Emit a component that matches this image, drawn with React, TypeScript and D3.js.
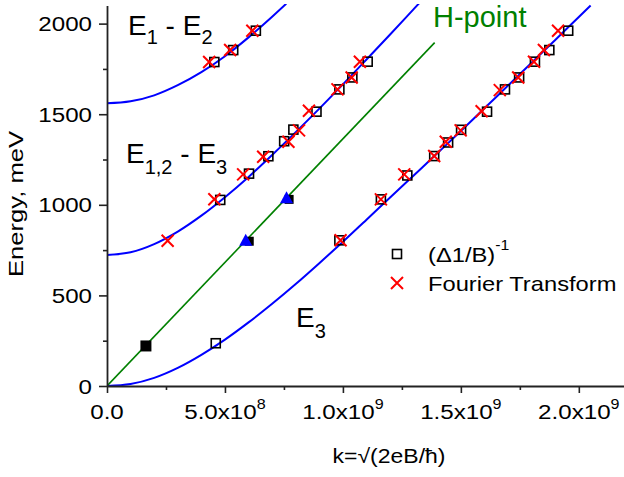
import React, { useEffect, useRef } from "react";
import * as d3 from "d3";

// k in m^-1, energy in meV
const xMajor = [0, 5e8, 1e9, 1.5e9, 2e9];
const xMinor = [2.5e8, 7.5e8, 1.25e9, 1.75e9];
const xTickText = ["0.0", "5.0x10", "1.0x10", "1.5x10", "2.0x10"];
const xTickExp = ["", "8", "9", "9", "9"];
const yMajor = [0, 500, 1000, 1500, 2000];
const yMinor = [250, 750, 1250, 1750];

// fitted curves
const fitK12 = [0, 1e8, 2e8, 3e8, 4e8, 5e8, 6e8, 7e8, 7.6e8];
const fitE12 = [1560, 1571, 1604, 1660, 1732, 1820, 1924, 2038, 2110];
const fitK123 = [0, 1e8, 2e8, 3e8, 4e8, 5e8, 6e8, 7e8, 8e8, 9e8, 10e8, 11e8, 12e8, 13e8, 13.3e8];
const fitE123 = [723, 738, 783, 852, 940, 1042, 1154, 1275, 1401, 1531, 1665, 1802, 1940, 2080, 2122];
const fitK3 = [0, 1e8, 2e8, 3e8, 4e8, 5e8, 6e8, 7e8, 8e8, 9e8, 10e8, 11e8, 12e8, 13e8, 14e8, 15e8, 16e8, 17e8, 18e8, 19e8, 20e8, 20.5e8];
const fitE3 = [0, 11, 45, 100, 172, 256, 351, 454, 563, 678, 796, 918, 1040, 1162, 1284, 1407, 1533, 1658, 1784, 1910, 2037, 2100];
const hLineK = [0, 13.89e8];
const hLineE = [0, 1895];

// (Δ1/B)^-1 points
const sqK = [4.55e8, 5.35e8, 6.31e8,
  4.8e8, 6.02e8, 6.84e8, 7.51e8, 7.9e8, 8.88e8, 9.85e8, 10.4e8, 11.05e8,
  4.61e8, 9.85e8, 11.61e8, 12.73e8, 13.87e8, 14.46e8, 15.01e8, 16.11e8, 16.87e8, 17.47e8, 18.14e8, 18.75e8, 19.55e8];
const sqE = [1788, 1854, 1961,
  1027, 1172, 1268, 1351, 1415, 1514, 1637, 1703, 1790,
  236, 804, 1030, 1162, 1269, 1344, 1414, 1514, 1637, 1703, 1790, 1854, 1961];

// Fourier transform points
const ftK = [4.33e8, 5.22e8, 6.16e8,
  2.57e8, 4.55e8, 5.77e8, 6.62e8, 7.69e8, 8.14e8, 8.56e8, 9.77e8, 10.37e8, 10.72e8,
  9.9e8, 11.61e8, 12.6e8, 13.87e8, 14.36e8, 14.99e8, 15.88e8, 16.65e8, 17.43e8, 18.1e8, 18.52e8, 19.12e8];
const ftE = [1788, 1854, 1961,
  802, 1031, 1168, 1265, 1348, 1411, 1519, 1637, 1703, 1790,
  804, 1030, 1168, 1269, 1348, 1411, 1516, 1633, 1703, 1790, 1854, 1961];

// H-point
const hSqK = [1.65e8, 6.03e8, 7.72e8];
const hSqE = [221, 799, 1030];
const hSqSize = [11, 9, 9];
const hTriK = [5.88e8, 7.61e8];
const hTriE = [802, 1036];

const FONT = "'Liberation Sans', Arial, sans-serif";

export default function App() {
  const axRef = useRef<SVGGElement>(null);
  const x = d3.scaleLinear().domain([0, 2.2e9]).range([107, 626]);
  const y = d3.scaleLinear().domain([0, 2100]).range([386, 5.5]);

  useEffect(() => {
    const g = d3.select(axRef.current);
    g.selectAll("*").remove();
    const bx = g.append("g").attr("transform", "translate(0,386)");
    bx.append("g").call(d3.axisBottom(x).tickValues(xMajor).tickSize(7).tickSizeOuter(0).tickFormat(() => ""));
    bx.append("g").call(d3.axisBottom(x).tickValues(xMinor).tickSize(4).tickSizeOuter(0).tickFormat(() => ""))
      .select(".domain").remove();
    const ly = g.append("g").attr("transform", "translate(107,0)");
    ly.append("g").call(d3.axisLeft(y).tickValues(yMajor).tickSize(8).tickSizeOuter(0).tickFormat(() => ""));
    ly.append("g").call(d3.axisLeft(y).tickValues(yMinor).tickSize(4).tickSizeOuter(0).tickFormat(() => ""))
      .select(".domain").remove();
    g.selectAll(".domain").attr("stroke", "#222").attr("stroke-width", 1.8);
    g.selectAll(".tick line").attr("stroke", "#222").attr("stroke-width", 1.6);
  }, []);

  const line = d3.line<[number, number]>().x(d => x(d[0])).y(d => y(d[1])).curve(d3.curveMonotoneX);
  const pts = (ks: number[], es: number[]) => ks.map((k, i) => [k, es[i]] as [number, number]);

  const cross = (cx: number, cy: number, key: any) => (
    <path key={key} d={`M${cx - 6},${cy - 6}L${cx + 6},${cy + 6}M${cx - 6},${cy + 6}L${cx + 6},${cy - 6}`}
      stroke="#ff0000" strokeWidth={2} fill="none" />
  );
  const stretch = (tx: number, ty: number, rot = 0, sx = 1.15) => `translate(${tx},${ty}) rotate(${rot}) scale(${sx},1)`;

  return (
    <svg width={624} height={477} style={{ position: "absolute", left: 0, top: 0, background: "#fff" }}
      fontFamily={FONT}>
      <defs>
        <clipPath id="plot"><rect x={107} y={4} width={520} height={382} /></clipPath>
      </defs>
      <g clipPath="url(#plot)" fill="none">
        <path d={line(pts(fitK12, fitE12)) || ""} stroke="#0000ff" strokeWidth={2} />
        <path d={line(pts(fitK123, fitE123)) || ""} stroke="#0000ff" strokeWidth={2} />
        <path d={line(pts(fitK3, fitE3)) || ""} stroke="#0000ff" strokeWidth={2} />
        <path d={line(pts(hLineK, hLineE)) || ""} stroke="#008000" strokeWidth={1.6} />
      </g>
      <g ref={axRef} />
      {sqK.map((k, i) => (
        <rect key={"s" + i} x={x(k) - 4.5} y={y(sqE[i]) - 4.5} width={9} height={9}
          fill="none" stroke="#000" strokeWidth={1.6} />
      ))}
      {ftK.map((k, i) => cross(x(k), y(ftE[i]), "c" + i))}
      {hSqK.map((k, i) => (
        <rect key={"h" + i} x={x(k) - hSqSize[i] / 2} y={y(hSqE[i]) - hSqSize[i] / 2}
          width={hSqSize[i]} height={hSqSize[i]} fill="#000" />
      ))}
      {hTriK.map((k, i) => {
        const cx = x(k), cy = y(hTriE[i]);
        return <path key={"t" + i} d={`M${cx},${cy - 7}L${cx + 6.5},${cy + 5}L${cx - 6.5},${cy + 5}Z`} fill="#0000ff" />;
      })}

      {/* tick labels */}
      {yMajor.map(v => (
        <text key={"yl" + v} transform={stretch(92, y(v) + 7.5)} textAnchor="end" fontSize={21}>{v}</text>
      ))}
      {xMajor.map((v, i) => (
        <text key={"xl" + v} transform={stretch(x(v), 419)} textAnchor="middle" fontSize={21}>
          {xTickText[i]}
          {xTickExp[i] && <tspan fontSize={14} dy={-10}>{xTickExp[i]}</tspan>}
        </text>
      ))}

      {/* axis titles */}
      <text transform={stretch(23, 204, -90, 1.22)} textAnchor="middle" fontSize={21}>Energy, meV</text>
      <text transform={stretch(389, 463)} textAnchor="middle" fontSize={20}>k=√(2eB/ħ)</text>

      {/* curve labels */}
      <text x={128} y={35} fontSize={28}>E<tspan fontSize={20} dy={9}>1</tspan><tspan dy={-9}> - E</tspan><tspan fontSize={20} dy={9}>2</tspan></text>
      <text x={126} y={163} fontSize={28}>E<tspan fontSize={20} dy={11}>1,2</tspan><tspan dy={-11}> - E</tspan><tspan fontSize={20} dy={11}>3</tspan></text>
      <text x={296} y={327} fontSize={28}>E<tspan fontSize={20} dy={11}>3</tspan></text>
      <text x={433} y={27} fontSize={29} fill="#008000">H-point</text>

      {/* legend */}
      <rect x={392.5} y={249.5} width={9} height={9} fill="none" stroke="#000" strokeWidth={1.6} />
      <text transform={stretch(428, 262, 0, 1.13)} fontSize={21}>(Δ1/B)<tspan fontSize={14} dy={-12}>-1</tspan></text>
      {cross(397, 283, "lc")}
      <text transform={stretch(428, 291, 0, 1.13)} fontSize={21}>Fourier Transform</text>
    </svg>
  );
}
